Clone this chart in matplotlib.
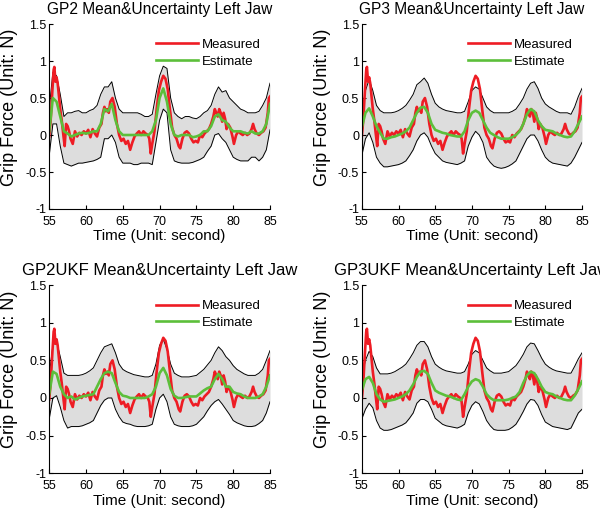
import numpy as np
import matplotlib
matplotlib.use("Agg")
import matplotlib.pyplot as plt

plt.rcParams['font.family'] = ['Liberation Sans', 'DejaVu Sans']

# Common time grid for the GP estimates and their uncertainty bands (seconds)
grid_t = np.arange(55.0, 85.01, 0.5)

# Measured grip force (same in all four panels)
meas_t = [55.0, 55.2, 55.4, 55.6, 55.7, 55.85, 56.0, 56.15, 56.3, 56.5,
          56.7, 56.9, 57.1, 57.3, 57.5, 57.7, 57.9, 58.2, 58.5, 58.8,
          59.1, 59.4, 59.7, 60.0, 60.3, 60.6, 60.9, 61.2, 61.5, 61.8,
          62.1, 62.3, 62.5, 62.7, 62.9, 63.1, 63.3, 63.6, 63.9, 64.2,
          64.5, 64.8, 65.1, 65.4, 65.7, 66.0, 66.3, 66.6, 66.9, 67.2,
          67.5, 67.8, 68.1, 68.4, 68.6, 68.8, 69.0, 69.3, 69.6, 69.9,
          70.2, 70.5, 70.8, 71.1, 71.4, 71.7, 72.0, 72.3, 72.6, 72.8,
          73.1, 73.4, 73.7, 74.0, 74.3, 74.6, 74.9, 75.2, 75.5, 75.8,
          76.1, 76.4, 76.7, 77.0, 77.3, 77.5, 77.7, 77.9, 78.1, 78.3,
          78.5, 78.7, 78.9, 79.1, 79.3, 79.6, 79.9, 80.1, 80.4, 80.7,
          81.0, 81.3, 81.6, 81.9, 82.2, 82.5, 82.7, 82.9, 83.2, 83.5,
          83.8, 84.1, 84.4, 84.7, 84.85, 85.0]
measured = [-0.02, 0.2, 0.55, 0.88, 0.92, 0.72, 0.78, 0.7, 0.55, 0.35,
            0.2, 0.02, -0.15, 0.15, 0.12, 0.05, -0.05, -0.12, 0.05, -0.02,
            0.03, 0.0, 0.05, 0.02, 0.07, -0.03, 0.08, 0.02, -0.02, 0.1,
            0.15, 0.3, 0.38, 0.32, 0.35, 0.3, 0.45, 0.5, 0.38, 0.15,
            0.0, -0.08, -0.05, -0.12, -0.08, -0.2, -0.1, -0.02, 0.02, 0.05,
            0.0, 0.05, 0.02, 0.0, -0.05, -0.25, -0.12, 0.05, 0.35, 0.6,
            0.72, 0.8, 0.76, 0.62, 0.35, 0.1, 0.0, -0.05, -0.15, -0.18,
            -0.05, 0.03, 0.05, 0.02, -0.05, -0.1, -0.08, -0.1, 0.0, -0.03,
            0.02, 0.05, 0.08, 0.15, 0.25, 0.35, 0.3, 0.25, 0.35, 0.3,
            0.18, 0.3, 0.22, 0.08, 0.15, 0.1, -0.02, -0.12, 0.0, 0.05,
            0.02, 0.0, 0.03, 0.0, 0.02, 0.08, 0.15, 0.08, 0.02, 0.0,
            0.03, 0.05, 0.1, 0.3, 0.5, 0.52]

# GP2
gp2_est = [0.05, 0.5, 0.45, 0.25, 0.05, 0.02, -0.02, 0.0, 0.02, 0.03,
           0.02, 0.03, 0.05, 0.05, 0.15, 0.35, 0.32, 0.42, 0.2, 0.05,
           0.0, 0.0, 0.0, 0.0, 0.0, 0.0, 0.0, 0.0, 0.05, 0.2,
           0.5, 0.63, 0.45, 0.15, 0.0, -0.02, 0.0, 0.0, 0.0, -0.03,
           -0.02, 0.0, 0.05, 0.05, 0.12, 0.25, 0.28, 0.2, 0.18, 0.1,
           0.05, 0.05, 0.05, 0.03, 0.02, 0.05, 0.02, 0.02, 0.05, 0.15,
           0.42]
gp2_up = [0.35, 0.85, 0.8, 0.55, 0.25, 0.3, 0.3, 0.32, 0.33, 0.3,
          0.3, 0.33, 0.35, 0.4, 0.55, 0.65, 0.65, 0.72, 0.5, 0.35,
          0.3, 0.3, 0.3, 0.3, 0.3, 0.28, 0.25, 0.25, 0.28, 0.55,
          0.8, 0.93, 0.9, 0.5, 0.3, 0.25, 0.22, 0.25, 0.25, 0.23,
          0.22, 0.25, 0.3, 0.33, 0.4, 0.55, 0.65, 0.58, 0.6, 0.5,
          0.45, 0.4, 0.35, 0.33, 0.3, 0.3, 0.3, 0.32, 0.4, 0.5,
          0.7]
gp2_lo = [-0.28, 0.15, 0.15, -0.15, -0.38, -0.4, -0.42, -0.4, -0.38, -0.38,
          -0.37, -0.36, -0.35, -0.33, -0.3, -0.05, -0.05, 0.0, -0.1, -0.3,
          -0.38, -0.38, -0.38, -0.4, -0.4, -0.38, -0.38, -0.38, -0.4, -0.1,
          0.2, 0.35, 0.3, -0.2, -0.35, -0.37, -0.38, -0.38, -0.38, -0.37,
          -0.35, -0.33, -0.3, -0.22, -0.15, 0.0, 0.02, -0.05, -0.1, -0.2,
          -0.3, -0.33, -0.35, -0.35, -0.35, -0.3, -0.3, -0.35, -0.3, -0.2,
          0.07]

# GP3
gp3_est = [0.1, 0.3, 0.36, 0.25, 0.12, 0.03, -0.05, -0.05, -0.03, -0.02,
           0.0, 0.02, 0.05, 0.1, 0.2, 0.3, 0.37, 0.38, 0.3, 0.15,
           0.07, 0.05, 0.03, 0.02, 0.0, -0.01, -0.02, -0.02, 0.05, 0.2,
           0.3, 0.33, 0.3, 0.2, 0.1, 0.03, 0.0, -0.03, -0.05, -0.05,
           -0.05, -0.03, 0.0, 0.05, 0.15, 0.28, 0.35, 0.32, 0.2, 0.12,
           0.07, 0.06, 0.05, 0.02, 0.0, -0.02, -0.03, -0.02, 0.05, 0.15,
           0.25]
gp3_up = [0.3, 0.6, 0.75, 0.6, 0.4, 0.33, 0.3, 0.3, 0.3, 0.31,
          0.33, 0.36, 0.4, 0.47, 0.55, 0.68, 0.72, 0.77, 0.7, 0.55,
          0.43, 0.38, 0.35, 0.33, 0.32, 0.31, 0.3, 0.3, 0.32, 0.45,
          0.6, 0.65, 0.62, 0.5, 0.38, 0.33, 0.3, 0.3, 0.3, 0.3,
          0.3, 0.32, 0.35, 0.42, 0.5, 0.62, 0.7, 0.72, 0.63, 0.5,
          0.42, 0.38, 0.35, 0.32, 0.3, 0.3, 0.3, 0.28, 0.38, 0.52,
          0.63]
gp3_lo = [-0.28, -0.05, 0.03, -0.1, -0.3, -0.38, -0.43, -0.43, -0.42, -0.41,
          -0.4, -0.38, -0.35, -0.28, -0.2, -0.08, 0.0, 0.03, -0.03, -0.15,
          -0.25, -0.3, -0.35, -0.37, -0.38, -0.39, -0.4, -0.38, -0.35, -0.15,
          -0.03, 0.05, 0.0, -0.1, -0.3, -0.37, -0.42, -0.44, -0.45, -0.44,
          -0.42, -0.39, -0.35, -0.25, -0.15, -0.05, 0.0, 0.0, -0.08, -0.2,
          -0.3, -0.35, -0.38, -0.39, -0.4, -0.41, -0.42, -0.38, -0.3, -0.2,
          -0.1]

# GP2UKF
gp2ukf_est = [0.05, 0.35, 0.32, 0.15, 0.05, 0.0, 0.02, -0.02, 0.0, 0.02,
              0.03, 0.04, 0.05, 0.15, 0.25, 0.33, 0.35, 0.33, 0.2, 0.08,
              0.03, 0.02, 0.0, 0.0, 0.0, 0.0, 0.0, 0.02, 0.05, 0.15,
              0.33, 0.4, 0.3, 0.12, 0.03, 0.0, 0.0, 0.01, 0.02, 0.02,
              0.02, 0.06, 0.1, 0.13, 0.15, 0.25, 0.32, 0.25, 0.15, 0.15,
              0.08, 0.06, 0.05, 0.02, 0.0, 0.0, 0.0, 0.02, 0.05, 0.15,
              0.3]
gp2ukf_up = [0.3, 0.7, 0.75, 0.55, 0.33, 0.3, 0.3, 0.3, 0.3, 0.31,
             0.33, 0.36, 0.4, 0.5, 0.6, 0.68, 0.7, 0.72, 0.6, 0.45,
             0.38, 0.35, 0.33, 0.31, 0.3, 0.29, 0.28, 0.28, 0.3, 0.45,
             0.7, 0.78, 0.65, 0.45, 0.33, 0.3, 0.28, 0.28, 0.28, 0.29,
             0.3, 0.34, 0.38, 0.44, 0.5, 0.6, 0.68, 0.63, 0.55, 0.5,
             0.43, 0.38, 0.35, 0.32, 0.3, 0.3, 0.3, 0.33, 0.38, 0.5,
             0.63]
gp2ukf_lo = [-0.28, 0.0, 0.03, -0.12, -0.3, -0.4, -0.38, -0.38, -0.38, -0.37,
             -0.35, -0.33, -0.3, -0.2, -0.1, -0.03, 0.0, 0.0, -0.15, -0.25,
             -0.32, -0.34, -0.35, -0.37, -0.38, -0.38, -0.38, -0.37, -0.35, -0.15,
             0.0, 0.05, -0.05, -0.25, -0.35, -0.37, -0.38, -0.38, -0.38, -0.37,
             -0.35, -0.3, -0.25, -0.17, -0.1, -0.05, -0.02, -0.08, -0.15, -0.22,
             -0.3, -0.33, -0.35, -0.37, -0.38, -0.38, -0.37, -0.34, -0.3, -0.2,
             -0.05]

# GP3UKF
gp3ukf_est = [0.1, 0.25, 0.28, 0.2, 0.05, -0.02, -0.05, -0.04, -0.03, -0.02,
              0.0, 0.02, 0.05, 0.1, 0.18, 0.28, 0.35, 0.36, 0.32, 0.2,
              0.1, 0.07, 0.05, 0.03, 0.02, 0.0, -0.02, -0.03, 0.05, 0.15,
              0.22, 0.25, 0.23, 0.15, 0.05, 0.0, -0.03, -0.03, -0.03, -0.03,
              -0.02, 0.0, 0.02, 0.08, 0.2, 0.3, 0.35, 0.33, 0.25, 0.15,
              0.08, 0.06, 0.05, 0.02, 0.0, -0.02, -0.03, -0.03, 0.03, 0.12,
              0.22]
gp3ukf_up = [0.28, 0.5, 0.62, 0.55, 0.4, 0.32, 0.32, 0.32, 0.33, 0.35,
             0.38, 0.41, 0.45, 0.52, 0.6, 0.7, 0.75, 0.75, 0.68, 0.55,
             0.45, 0.41, 0.38, 0.36, 0.35, 0.34, 0.33, 0.33, 0.35, 0.45,
             0.58, 0.63, 0.6, 0.5, 0.4, 0.36, 0.33, 0.33, 0.33, 0.34,
             0.35, 0.39, 0.43, 0.5, 0.58, 0.68, 0.73, 0.72, 0.63, 0.53,
             0.45, 0.41, 0.38, 0.36, 0.35, 0.34, 0.33, 0.33, 0.42, 0.52,
             0.6]
gp3ukf_lo = [-0.28, -0.15, -0.07, -0.13, -0.3, -0.4, -0.43, -0.43, -0.42, -0.4,
             -0.38, -0.36, -0.33, -0.27, -0.2, -0.07, -0.02, -0.02, -0.05, -0.15,
             -0.27, -0.31, -0.35, -0.37, -0.38, -0.39, -0.4, -0.38, -0.35, -0.2,
             -0.1, -0.05, -0.08, -0.18, -0.3, -0.37, -0.42, -0.43, -0.43, -0.43,
             -0.42, -0.39, -0.35, -0.27, -0.18, -0.08, -0.02, -0.03, -0.1, -0.22,
             -0.32, -0.35, -0.38, -0.39, -0.4, -0.41, -0.42, -0.4, -0.3, -0.2,
             -0.15]

titles = ["GP2 Mean&Uncertainty Left Jaw", "GP3 Mean&Uncertainty Left Jaw",
          "GP2UKF Mean&Uncertainty Left Jaw", "GP3UKF Mean&Uncertainty Left Jaw"]
title_sizes = [11.2, 11.2, 12, 12]
estimates = [gp2_est, gp3_est, gp2ukf_est, gp3ukf_est]
uppers = [gp2_up, gp3_up, gp2ukf_up, gp3ukf_up]
lowers = [gp2_lo, gp3_lo, gp2ukf_lo, gp3ukf_lo]

# axes rectangles in figure fractions (left, bottom, width, height)
positions = [[0.082, 0.591, 0.368, 0.362],
             [0.603, 0.591, 0.367, 0.362],
             [0.082, 0.074, 0.368, 0.368],
             [0.603, 0.074, 0.367, 0.368]]

fig = plt.figure(figsize=(6.0, 5.11), dpi=100)

for i in range(4):
    ax = fig.add_axes(positions[i])
    ax.fill_between(grid_t, lowers[i], uppers[i], color='#dddddd', linewidth=0)
    ax.plot(grid_t, uppers[i], color='black', linewidth=0.7)
    ax.plot(grid_t, lowers[i], color='black', linewidth=0.7)
    ax.plot(meas_t, measured, color='#ee1c24', linewidth=1.9, label='Measured')
    ax.plot(grid_t, estimates[i], color='#5cbf3a', linewidth=1.9, label='Estimate')

    ax.set_xlim(55, 85)
    ax.set_ylim(-1, 1.5)
    ax.set_xticks([55, 60, 65, 70, 75, 80, 85])
    ax.set_yticks([-1, -0.5, 0, 0.5, 1, 1.5])
    ax.set_yticklabels(['-1', '-0.5', '0', '0.5', '1', '1.5'])
    ax.spines['top'].set_visible(False)
    ax.spines['right'].set_visible(False)
    ax.spines['left'].set_linewidth(0.8)
    ax.spines['bottom'].set_linewidth(0.8)
    ax.tick_params(direction='in', length=3, width=0.8, labelsize=9)
    ax.tick_params(axis='x', pad=5)
    ax.tick_params(axis='y', pad=2)

    ax.set_title(titles[i], fontsize=title_sizes[i], pad=7.5)
    ax.set_xlabel('Time (Unit: second)', fontsize=11, labelpad=1)
    ax.set_ylabel('Grip Force (Unit: N)', fontsize=13)
    ax.yaxis.set_label_coords(-0.14, 0.55)
    ax.legend(loc='upper right', frameon=False, fontsize=9.5, handlelength=3.2,
              handletextpad=0.3, labelspacing=0.35, borderaxespad=0.3,
              bbox_to_anchor=(1.0, 0.97))

fig.savefig('out.png', dpi=100)
